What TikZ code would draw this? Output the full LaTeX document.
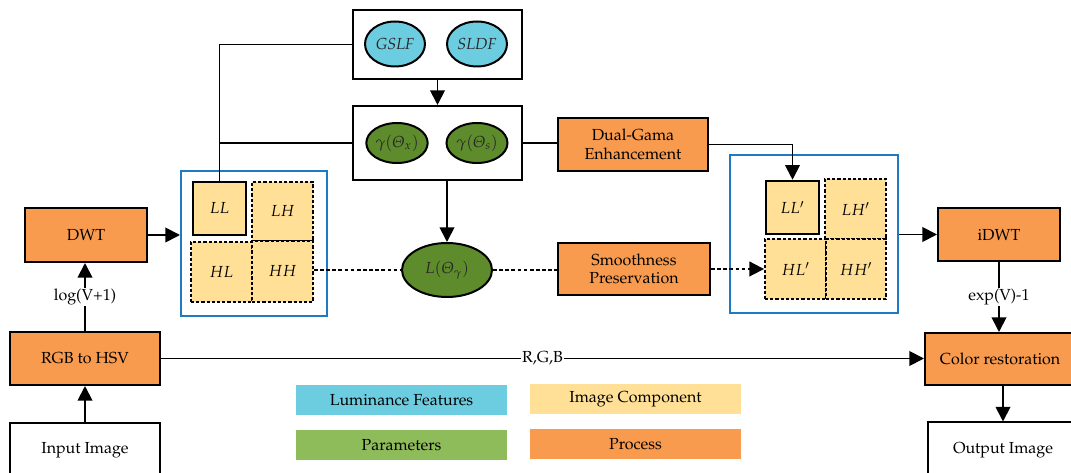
\documentclass[tikz,border=0pt]{standalone}
\usepackage[T1]{fontenc}
\usepackage[slantedGreek]{mathpazo}
\usetikzlibrary{arrows.meta,shapes.geometric}
\definecolor{cyanF}{RGB}{109,205,224}
\definecolor{greenD}{RGB}{94,139,44}
\definecolor{greenL}{RGB}{143,188,90}
\definecolor{yellowF}{RGB}{255,224,150}
\definecolor{orangeF}{RGB}{249,155,78}
\definecolor{blueF}{RGB}{31,122,198}
\tikzset{
  txt/.style={font=\fontsize{12}{14}\selectfont},
  proc/.style={txt, draw=black, line width=1.5pt, fill=orangeF, align=center, inner sep=1pt},
  plainbox/.style={txt, draw=black, line width=1.5pt, fill=white, align=center, inner sep=1pt},
  holder/.style={draw=black, line width=1.5pt, fill=white, inner sep=0pt},
  lum/.style={ellipse, draw=black, line width=1.5pt, fill=cyanF, inner sep=0pt, font=\fontsize{12}{14}\selectfont\itshape, text=black!85},
  param/.style={ellipse, draw=black, line width=1.5pt, fill=greenD, inner sep=0pt, font=\fontsize{12}{14}\selectfont, text=black!85},
  comp/.style={draw=black, fill=yellowF, line width=1.4pt, dash pattern=on 2.4pt off 1.5pt, inner sep=0pt, font=\fontsize{12}{14}\selectfont},
  compsolid/.style={draw=black, fill=yellowF, line width=1.9pt, inner sep=0pt, font=\fontsize{12}{14}\selectfont},
  frame/.style={draw=blueF, line width=1.5pt, inner sep=0pt},
  leg/.style={txt, draw=none, inner sep=0pt, minimum width=158pt, minimum height=22.5pt},
  conn/.style={line width=1.4pt},
  arr/.style={conn, -{Triangle[length=11pt,width=11pt]}},
  dashconn/.style={line width=1.4pt, dash pattern=on 2.8pt off 1.8pt},
  lab/.style={txt, fill=white, inner sep=1pt}
}
\begin{document}
\begin{tikzpicture}[x=0.75pt,y=-0.75pt]
\useasboundingbox (0,0) rectangle (1071,473);
\clip (0,0) rectangle (1071,473);

% top luminance holder
\node[holder, minimum width=126.75pt, minimum height=51.75pt] (top) at (437.5,44.5) {};
\node[lum, minimum width=45pt, minimum height=33.75pt] (gslf) at (395,44) {GSLF};
\node[lum, minimum width=45pt, minimum height=33.75pt] (sldf) at (477,44) {SLDF};

% parameter holder
\node[holder, minimum width=126.75pt, minimum height=55.5pt] (par) at (437.5,143) {};
\node[param, minimum width=45.75pt, minimum height=30pt] (gx) at (397,143) {$\gamma(\Theta_x)$};
\node[param, minimum width=45.75pt, minimum height=30pt] (gs) at (477,143) {$\gamma(\Theta_s)$};

\node[param, minimum width=67.5pt, minimum height=40.5pt] (lg) at (447,270) {$L(\Theta_\gamma)$};

\node[proc, minimum width=112.5pt, minimum height=39.75pt] (dual) at (633,144.5) {Dual-Gama\\Enhancement};
\node[proc, minimum width=114pt, minimum height=39pt] (smooth) at (634,269) {Smoothness\\Preservation};

% left wavelet frame
\node[frame, minimum width=109.5pt, minimum height=108.75pt] (fl) at (254,243.5) {};
\node[compsolid, minimum width=39.75pt, minimum height=39.75pt] (ll) at (219.5,208.5) {$LL$};
\node[comp, minimum width=45.75pt, minimum height=44.25pt] (lh) at (282.5,211.5) {$LH$};
\node[comp, minimum width=45.75pt, minimum height=45pt] (hl) at (221.5,272) {$HL$};
\node[comp, minimum width=45.75pt, minimum height=45.75pt] (hh) at (282.5,271.5) {$HH$};

% right wavelet frame
\node[frame, minimum width=126pt, minimum height=118.5pt] (fr) at (814,234) {};
\node[compsolid, minimum width=39.75pt, minimum height=39.75pt] (ll2) at (792.5,207.5) {$LL'$};
\node[comp, minimum width=45.75pt, minimum height=45pt] (lh2) at (855.5,209) {$LH'$};
\node[comp, minimum width=45.75pt, minimum height=45pt] (hl2) at (795.5,269) {$HL'$};
\node[comp, minimum width=45pt, minimum height=45pt] (hh2) at (856,269) {$HH'$};

% left column
\node[proc, minimum width=91.5pt, minimum height=40.5pt] (dwt) at (86,235) {DWT};
\node[proc, minimum width=112.5pt, minimum height=39.75pt] (rgb) at (85,358.5) {RGB to HSV};
\node[plainbox, minimum width=112.5pt, minimum height=40.5pt] (inp) at (85,450) {Input Image};

% right column
\node[proc, minimum width=91.5pt, minimum height=39.75pt] (idwt) at (999,234.5) {iDWT};
\node[proc, minimum width=112.5pt, minimum height=39pt] (col) at (1000,359) {Color restoration};
\node[plainbox, minimum width=112.5pt, minimum height=41.25pt] (out) at (1003,450) {Output Image};

% legend
\node[leg, fill=cyanF] (l1) at (401.5,400) {Luminance Features};
\node[leg, fill=yellowF] (l2) at (635.5,399) {Image Component};
\node[leg, fill=greenL] (l3) at (401.5,445) {Parameters};
\node[leg, fill=orangeF] (l4) at (635.5,444) {Process};

% connectors
\draw[conn] (top.west) -| (ll.north);
\draw[conn] (par.west) -- (ll.north |- par.west);
\draw[arr] (top.south) -- (par.north);
\draw[arr] (lg.north |- par.south) -- (lg.north);
\draw[conn] (par.east) -- (par.east -| dual.west);
\draw[arr] (dual.east) -| (ll2.north);
\draw[dashconn] (hh.east |- lg.west) -- (lg.west);
\draw[dashconn] (lg.east) -- (lg.east -| smooth.west);
\draw[dashconn, -{Triangle[length=11pt,width=11pt]}] (smooth.east) -- (smooth.east -| hl2.west);
\draw[arr] (dwt.east) -- (dwt.east -| fl.west);
\draw[arr] (idwt.west -| fr.east) -- (idwt.west);
\draw[arr] (inp.north) -- (inp.north |- rgb.south);
\draw[arr] (rgb.north) -- node[lab] {log(V+1)} (rgb.north |- dwt.south);
\draw[arr] (idwt.south) -- node[lab] {exp(V)-1} (idwt.south |- col.north);
\draw[arr] (col.south -| out.north) -- (out.north);
\draw[arr] (rgb.east) -- node[lab] {R,G,B} (rgb.east -| col.west);
\end{tikzpicture}
\end{document}
